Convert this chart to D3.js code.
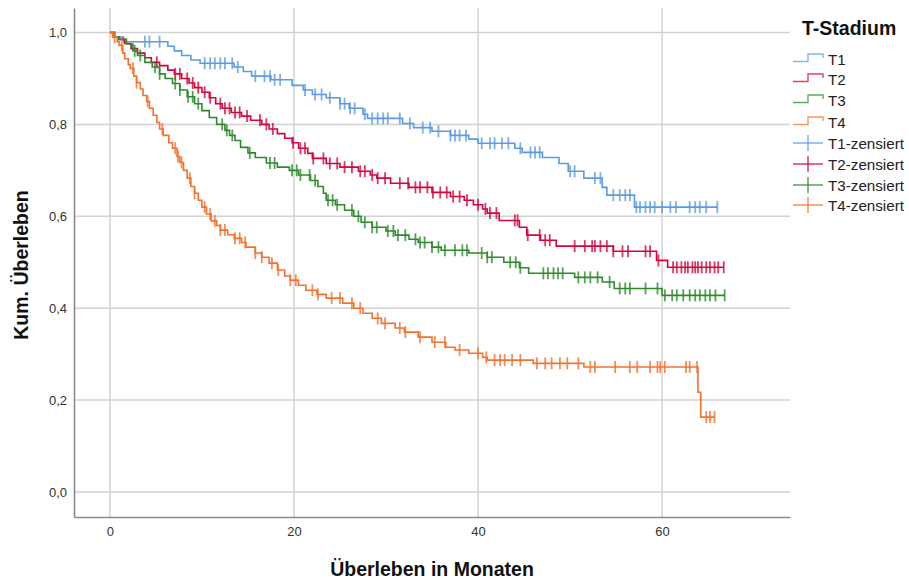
<!DOCTYPE html>
<html lang="de">
<head>
<meta charset="UTF-8">
<title>Kaplan-Meier T-Stadium</title>
<script src="https://cdn.jsdelivr.net/npm/d3@7"></script>
<style>
    body { margin: 0; background: #fff; }
    text { font-family: "Liberation Sans", Arial, sans-serif; }
    .tick text { fill: #333; font-size: 13px; }
    .axis-title { font-size: 19.5px; font-weight: bold; fill: #111; }
    .legend-title { font-size: 19.5px; font-weight: bold; fill: #111; }
    .legend-label { font-size: 15.2px; fill: #222; }
</style>
</head>
<body>
<svg width="909" height="579"></svg>
<script>
// step points [Monat, Überleben]
const t1Steps = [[0.3,0.99],[1.5,0.98],[6.3,0.97],[7.0,0.96],[7.8,0.95],[8.8,0.94],[9.8,0.933],
    [13.5,0.925],[14.5,0.915],[15.4,0.905],[17.5,0.897],[19.8,0.885],[21.0,0.875],[22.0,0.865],
    [23.5,0.858],[25.0,0.845],[26.0,0.835],[27.5,0.822],[28.0,0.813],[31.8,0.802],[33.0,0.793],
    [35.0,0.785],[37.0,0.776],[39.0,0.768],[40.0,0.759],[44.0,0.748],[44.8,0.739],[47.0,0.728],
    [48.8,0.715],[49.8,0.698],[51.5,0.683],[53.5,0.663],[54.0,0.646],[57.0,0.62]];
const t1Cens = [3.8,4.3,5.4,10.3,10.9,11.4,12.0,12.5,13.3,13.9,15.8,16.8,17.4,17.9,18.5,21.2,22.3,
    23.0,23.9,25.0,25.5,26.1,26.6,27.7,28.5,29.1,29.7,30.2,31.5,32.6,34.0,34.8,35.7,37.0,37.5,38.0,
    38.7,40.4,41.3,41.8,42.6,43.3,44.6,45.7,46.2,46.7,50.0,50.5,52.7,53.3,54.7,55.4,56.0,56.5,57.2,
    57.6,58.2,58.7,59.2,60.0,60.9,61.5,63.0,63.6,64.1,64.8,66.0];

const t2Steps = [[0.5,0.99],[1.0,0.985],[1.6,0.976],[2.3,0.965],[3.0,0.955],[3.8,0.945],[4.5,0.935],
    [5.4,0.928],[6.3,0.918],[7.0,0.91],[7.8,0.90],[8.6,0.89],[9.2,0.88],[10.0,0.87],[10.8,0.858],
    [11.5,0.845],[12.2,0.835],[13.2,0.826],[14.3,0.818],[15.3,0.809],[16.5,0.80],[17.3,0.79],
    [18.2,0.78],[19.0,0.77],[19.8,0.76],[20.5,0.748],[21.5,0.737],[22.0,0.726],[23.5,0.715],
    [25.0,0.707],[27.0,0.698],[28.3,0.69],[29.0,0.683],[30.5,0.672],[32.5,0.663],[35.0,0.652],
    [37.0,0.643],[38.5,0.635],[39.5,0.625],[40.5,0.616],[41.0,0.607],[42.3,0.591],[44.5,0.576],
    [45.3,0.559],[46.8,0.548],[48.5,0.535],[54.7,0.524],[59.4,0.504],[60.6,0.489]];
const t2Cens = [5.1,7.1,7.6,8.4,9.0,9.6,10.3,10.9,12.0,12.5,13.0,13.6,14.1,14.9,16.3,17.0,17.7,19.9,
    20.7,21.2,22.1,23.2,23.9,24.7,25.5,26.3,27.2,27.7,28.5,29.1,29.9,31.5,32.4,33.2,33.7,34.5,35.1,
    35.9,36.6,37.3,38.0,38.8,40.0,40.8,41.3,42.0,44.0,44.3,45.4,46.7,47.3,47.8,50.5,51.6,52.4,52.7,
    53.3,54.0,54.7,55.7,56.3,58.2,58.7,59.6,61.2,61.6,62.1,62.5,62.8,63.3,63.6,63.9,64.3,64.8,65.2,
    65.7,66.1,66.7];

const t3Steps = [[0.5,0.99],[1.0,0.985],[1.8,0.975],[2.5,0.96],[3.0,0.95],[3.8,0.935],[4.6,0.925],
    [5.4,0.91],[6.0,0.90],[6.8,0.889],[7.6,0.875],[8.4,0.86],[9.2,0.845],[10.0,0.83],[10.8,0.815],
    [11.6,0.80],[12.5,0.787],[13.0,0.776],[13.6,0.765],[14.2,0.75],[15.0,0.738],[15.8,0.728],
    [17.0,0.716],[18.2,0.707],[19.5,0.70],[20.5,0.69],[21.8,0.678],[22.6,0.665],[23.2,0.65],
    [23.5,0.635],[24.5,0.625],[25.5,0.613],[26.5,0.60],[27.3,0.587],[28.5,0.576],[30.0,0.568],
    [31.0,0.559],[32.5,0.55],[33.5,0.543],[35.0,0.533],[36.0,0.526],[39.0,0.52],[41.0,0.511],
    [42.8,0.50],[44.5,0.488],[45.5,0.476],[50.5,0.467],[53.5,0.457],[54.8,0.443],[60.0,0.428]];
const t3Cens = [2.7,3.3,4.9,5.4,7.1,7.6,8.5,9.0,9.6,12.2,12.7,13.3,15.2,17.4,17.9,19.8,20.3,20.7,21.7,
    22.3,23.7,24.2,24.7,26.3,27.0,27.7,28.5,29.0,30.2,30.8,31.3,32.1,33.2,33.7,34.2,35.0,35.7,36.4,
    37.5,38.3,38.8,40.4,41.0,41.5,43.5,44.1,44.6,47.1,47.6,48.2,48.7,49.2,50.9,51.6,52.2,53.0,54.3,
    55.4,56.0,56.5,58.2,59.5,60.3,61.1,61.6,62.3,63.0,63.6,64.1,64.7,65.2,65.8,66.8];

const t4Steps = [[0.3,0.99],[0.8,0.98],[1.0,0.972],[1.4,0.955],[1.6,0.943],[2.0,0.93],[2.2,0.922],
    [2.6,0.905],[2.9,0.891],[3.3,0.877],[3.6,0.863],[4.0,0.85],[4.3,0.835],[4.7,0.82],[5.1,0.804],
    [5.4,0.79],[5.8,0.776],[6.4,0.76],[6.8,0.748],[7.3,0.73],[7.6,0.717],[8.0,0.70],[8.4,0.683],
    [8.8,0.665],[9.2,0.65],[9.6,0.635],[10.0,0.62],[10.5,0.605],[11.0,0.59],[11.6,0.58],[12.0,0.57],
    [12.8,0.56],[13.5,0.552],[14.3,0.543],[14.8,0.533],[15.8,0.52],[16.5,0.511],[17.3,0.498],
    [18.2,0.483],[19.0,0.47],[19.6,0.461],[20.5,0.45],[21.3,0.439],[22.5,0.43],[23.5,0.422],
    [25.3,0.411],[26.5,0.40],[27.5,0.389],[28.5,0.378],[29.5,0.367],[31.0,0.357],[32.0,0.348],
    [33.5,0.337],[35.0,0.326],[36.5,0.315],[37.5,0.309],[39.0,0.302],[40.5,0.293],[41.0,0.287],
    [46.0,0.28],[51.5,0.272],[63.9,0.217],[64.2,0.163]];
const t4Cens = [0.5,1.3,2.5,2.9,4.1,5.7,7.1,7.4,7.8,8.7,9.2,10.3,10.9,11.4,12.0,12.5,13.6,14.1,14.7,
    15.8,16.5,17.6,18.3,19.6,20.2,22.0,22.6,24.1,25.0,26.3,27.2,29.1,29.9,31.5,32.1,33.7,35.3,36.4,
    38.0,40.0,40.9,41.8,42.4,42.9,43.7,44.6,46.4,47.3,48.0,48.9,49.7,50.9,52.2,52.7,54.9,56.5,57.3,
    58.7,59.5,59.8,60.3,62.6,63.0,63.8,64.8,65.2,65.7];

const groups = ["T1", "T2", "T3", "T4"];
const colors = ["#5b9be3", "#d4043c", "#2d8a2d", "#f4712f"];
const xTicks = [0, 20, 40, 60];
const yTicks = [0, 0.2, 0.4, 0.6, 0.8, 1.0];

const series = [
    {name: "T1", steps: t1Steps, cens: t1Cens},
    {name: "T2", steps: t2Steps, cens: t2Cens},
    {name: "T3", steps: t3Steps, cens: t3Cens},
    {name: "T4", steps: t4Steps, cens: t4Cens}
];

const svg = d3.select("svg");
const plot = {left: 74, right: 790, top: 8, bottom: 517};

const x = d3.scaleLinear().domain([-3.9, 73.9]).range([plot.left, plot.right]);
const y = d3.scaleLinear().domain([-0.0544, 1.0533]).range([plot.bottom, plot.top]);
const color = d3.scaleOrdinal().domain(groups).range(colors);

const de = d3.formatLocale({decimal: ",", thousands: ".", grouping: [3], currency: ["", " €"]});

// grid
svg.append("g").selectAll("line").data(xTicks).join("line")
    .attr("x1", d => x(d)).attr("x2", d => x(d))
    .attr("y1", plot.top).attr("y2", plot.bottom)
    .attr("stroke", "#d2d2d2").attr("stroke-width", 1.5);
svg.append("g").selectAll("line").data(yTicks).join("line")
    .attr("x1", plot.left).attr("x2", plot.right)
    .attr("y1", d => y(d)).attr("y2", d => y(d))
    .attr("stroke", "#d2d2d2").attr("stroke-width", 1.5);

// axes
const xAxis = svg.append("g")
    .attr("transform", "translate(0," + plot.bottom + ")")
    .call(d3.axisBottom(x).tickValues(xTicks).tickSize(0).tickPadding(10).tickFormat(d3.format("d")));
const yAxis = svg.append("g")
    .attr("transform", "translate(" + plot.left + ",0)")
    .call(d3.axisLeft(y).tickValues(yTicks).tickSize(0).tickPadding(7).tickFormat(de.format(".1f")));
[xAxis, yAxis].forEach(a => {
    a.attr("font-family", null).attr("font-size", null);
    a.select(".domain").attr("stroke", "#8a8a8a").attr("stroke-width", 1.6);
});

// curves
const line = d3.line()
    .x(d => x(d[0]))
    .y(d => y(d[1]))
    .curve(d3.curveStepAfter);

function survAt(steps, t) {
    let s = 1;
    for (const p of steps) { if (p[0] <= t) s = p[1]; }
    return s;
}

series.forEach(s => {
    const end = d3.max(s.cens);
    const pts = [[0, 1]].concat(s.steps, [[end, s.steps[s.steps.length - 1][1]]]);
    svg.append("path")
        .datum(pts)
        .attr("fill", "none")
        .attr("stroke", color(s.name))
        .attr("stroke-width", 1.6)
        .attr("d", line);

    svg.append("g").selectAll("line")
        .data(s.cens)
        .join("line")
        .attr("x1", d => x(d)).attr("x2", d => x(d))
        .attr("y1", d => y(survAt(s.steps, d)) - 6)
        .attr("y2", d => y(survAt(s.steps, d)) + 6)
        .attr("stroke", color(s.name))
        .attr("stroke-width", 1.8)
        .attr("stroke-opacity", 0.8);
});

// axis titles
svg.append("text")
    .attr("class", "axis-title")
    .attr("x", 432).attr("y", 576)
    .attr("text-anchor", "middle")
    .text("Überleben in Monaten");
svg.append("text")
    .attr("class", "axis-title")
    .attr("transform", "translate(28,265) rotate(-90)")
    .attr("text-anchor", "middle")
    .text("Kum. Überleben");

// legend
const legend = svg.append("g").attr("transform", "translate(793,0)");
legend.append("text")
    .attr("class", "legend-title")
    .attr("x", 9).attr("y", 35)
    .text("T-Stadium");

const rowY = [59, 79, 100, 122, 143, 164, 185, 205];
groups.forEach((g, i) => {
    const ry = rowY[i];
    legend.append("path")
        .attr("d", `M0,${ry + 2.5}H15V${ry - 5}H30V${ry - 1}`)
        .attr("fill", "none")
        .attr("stroke", color(g))
        .attr("stroke-opacity", 0.75)
        .attr("stroke-width", 1.4);
    legend.append("text")
        .attr("class", "legend-label")
        .attr("x", 35).attr("y", ry + 5.5)
        .text(g);
});
groups.forEach((g, i) => {
    const ry = rowY[i + 4];
    legend.append("line")
        .attr("x1", 0).attr("x2", 30).attr("y1", ry).attr("y2", ry)
        .attr("stroke", color(g)).attr("stroke-opacity", 0.75).attr("stroke-width", 1.6);
    legend.append("line")
        .attr("x1", 15).attr("x2", 15).attr("y1", ry - 8).attr("y2", ry + 8)
        .attr("stroke", color(g)).attr("stroke-opacity", 0.75).attr("stroke-width", 1.6);
    legend.append("text")
        .attr("class", "legend-label")
        .attr("x", 35).attr("y", ry + 5.5)
        .text(g + "-zensiert");
});
</script>
</body>
</html>
